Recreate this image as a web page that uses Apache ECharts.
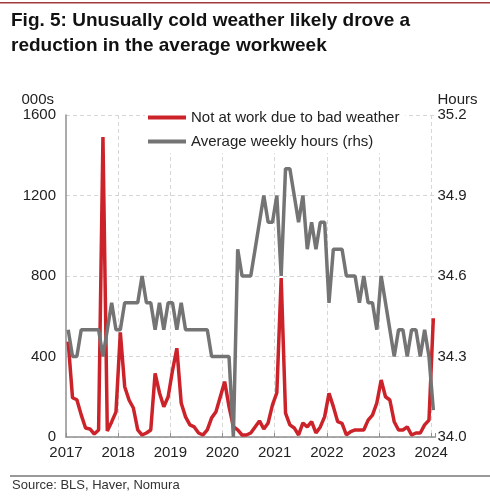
<!DOCTYPE html>
<html>
<head>
<meta charset="utf-8">
<script src="https://cdn.jsdelivr.net/npm/echarts@6/dist/echarts.min.js"></script>
<style>
html, body { margin: 0; padding: 0; background: #fff; }
#main { width: 490px; height: 500px; }
</style>
</head>
<body>
<div id="main"></div>
<script>
// monthly, Jan 2017 .. Jan 2024
const startYear = 2017
const yearLabels = [2017, 2018, 2019, 2020, 2021, 2022, 2023, 2024]
const leftTicks = [0, 400, 800, 1200, 1600]
const rightTicks = [34.0, 34.3, 34.6, 34.9, 35.2]

// not at work due to bad weather, 000s
const notAtWork = [
  474, 195, 185, 110, 45, 40, 15, 35, 1490, 30, 75, 125, // 2017
  520, 250, 184, 144, 35, 10, 20, 35, 316, 220, 150, 200, // 2018
  330, 441, 169, 100, 60, 50, 20, 10, 35, 95, 125, 200, // 2019
  275, 151, 51, 35, 10, 10, 20, 50, 80, 40, 70, 160, // 2020
  220, 790, 119, 60, 45, 10, 70, 50, 76, 20, 50, 101, // 2021
  217, 151, 76, 68, 10, 27, 35, 35, 35, 84, 109, 169, // 2022
  283, 200, 184, 76, 35, 35, 50, 10, 20, 20, 60, 84, // 2023
  590 // 2024
]

// average weekly hours (rhs)
const avgHours = [
  34.4, 34.3, 34.3, 34.4, 34.4, 34.4, 34.4, 34.4, 34.3, 34.4, 34.5, 34.4,
  34.4, 34.5, 34.5, 34.5, 34.5, 34.6, 34.5, 34.5, 34.4, 34.5, 34.4, 34.5,
  34.5, 34.4, 34.5, 34.4, 34.4, 34.4, 34.4, 34.4, 34.4, 34.3, 34.3, 34.3,
  34.3, 34.3, 34.0, 34.7, 34.6, 34.6, 34.6, 34.7, 34.8, 34.9, 34.8, 34.8,
  34.9, 34.6, 35.0, 35.0, 34.9, 34.8, 34.9, 34.7, 34.8, 34.7, 34.8, 34.8,
  34.5, 34.7, 34.7, 34.7, 34.6, 34.6, 34.6, 34.5, 34.6, 34.5, 34.5, 34.4,
  34.6, 34.5, 34.4, 34.3, 34.4, 34.4, 34.3, 34.4, 34.4, 34.3, 34.4, 34.3,
  34.1
]

// points sit mid-month
const monthPos = i => startYear + (i + 0.5) / 12

const font = 'Liberation Sans, Arial, sans-serif'
const textColor = '#222'
const gridColor = '#d6d6d6'
const axisColor = '#8f8f8f'

const chart = echarts.init(document.getElementById('main'))
chart.setOption({
  animation: false,
  backgroundColor: '#fff',
  textStyle: { fontFamily: font },
  title: [
    {
      text: 'Fig. 5: Unusually cold weather likely drove a\nreduction in the average workweek',
      left: 6,
      top: 3,
      textStyle: { fontFamily: font, fontSize: 19, fontWeight: 'bold', color: '#111', lineHeight: 25 }
    },
    {
      text: 'Source: BLS, Haver, Nomura',
      left: 7,
      top: 474,
      textStyle: { fontFamily: font, fontSize: 13, fontWeight: 'normal', color: '#333' }
    }
  ],
  graphic: [
    { type: 'rect', shape: { x: 0, y: 2, width: 490, height: 1.5 }, style: { fill: '#a3393c' } },
    { type: 'line', shape: { x1: 10, y1: 476, x2: 490, y2: 476 }, style: { stroke: '#333', lineWidth: 1 } }
  ],
  legend: {
    orient: 'vertical',
    left: 145,
    top: 106,
    padding: [4, 6, 4, 3],
    itemGap: 9,
    itemWidth: 38,
    itemHeight: 4,
    icon: 'rect',
    backgroundColor: '#fff',
    textStyle: { fontFamily: font, fontSize: 15, color: textColor },
    data: ['Not at work due to bad weather', 'Average weekly hours (rhs)']
  },
  grid: { left: 66, right: 54.5, top: 115, bottom: 63 },
  xAxis: {
    type: 'value',
    min: yearLabels[0],
    max: yearLabels[yearLabels.length - 1] + 1 / 12,
    interval: 1,
    axisLine: { lineStyle: { color: axisColor, width: 1.5 } },
    axisTick: { inside: true, length: 4, lineStyle: { color: axisColor } },
    axisLabel: {
      fontSize: 15,
      color: textColor,
      margin: 8,
      formatter: v => (yearLabels.includes(Math.round(v)) && Math.abs(v - Math.round(v)) < 1e-6 ? String(Math.round(v)) : '')
    },
    splitLine: { show: true, showMinLine: false, showMaxLine: false, lineStyle: { color: gridColor, type: [4, 3] } }
  },
  yAxis: [
    {
      type: 'value',
      position: 'left',
      min: leftTicks[0],
      max: leftTicks[leftTicks.length - 1],
      interval: leftTicks[1] - leftTicks[0],
      name: '000s',
      nameLocation: 'end',
      nameGap: 8,
      nameTextStyle: { fontSize: 15, color: textColor, align: 'right', padding: [0, 12, 0, 0] },
      axisLine: { show: true, lineStyle: { color: axisColor, width: 1.5 } },
      axisTick: { show: false },
      axisLabel: { fontSize: 15, color: textColor, margin: 10, formatter: v => String(v) },
      splitLine: { show: true, lineStyle: { color: gridColor, type: [4, 3] } }
    },
    {
      type: 'value',
      position: 'right',
      min: rightTicks[0],
      max: rightTicks[rightTicks.length - 1],
      alignTicks: true,
      name: 'Hours',
      nameLocation: 'end',
      nameGap: 8,
      nameTextStyle: { fontSize: 15, color: textColor, align: 'left', padding: [0, 0, 0, 2] },
      axisLine: { show: false },
      axisTick: { show: false },
      axisLabel: { fontSize: 15, color: textColor, margin: 2, formatter: v => v.toFixed(1) },
      splitLine: { show: false }
    }
  ],
  series: [
    {
      name: 'Not at work due to bad weather',
      type: 'line',
      yAxisIndex: 0,
      symbol: 'none',
      data: notAtWork.map((v, i) => [monthPos(i), v]),
      lineStyle: { color: '#cc2229', width: 3.5 },
      itemStyle: { color: '#cc2229' }
    },
    {
      name: 'Average weekly hours (rhs)',
      type: 'line',
      yAxisIndex: 1,
      symbol: 'none',
      data: avgHours.map((v, i) => [monthPos(i), v]),
      lineStyle: { color: '#747474', width: 3.5 },
      itemStyle: { color: '#747474' }
    }
  ]
})
</script>
</body>
</html>
